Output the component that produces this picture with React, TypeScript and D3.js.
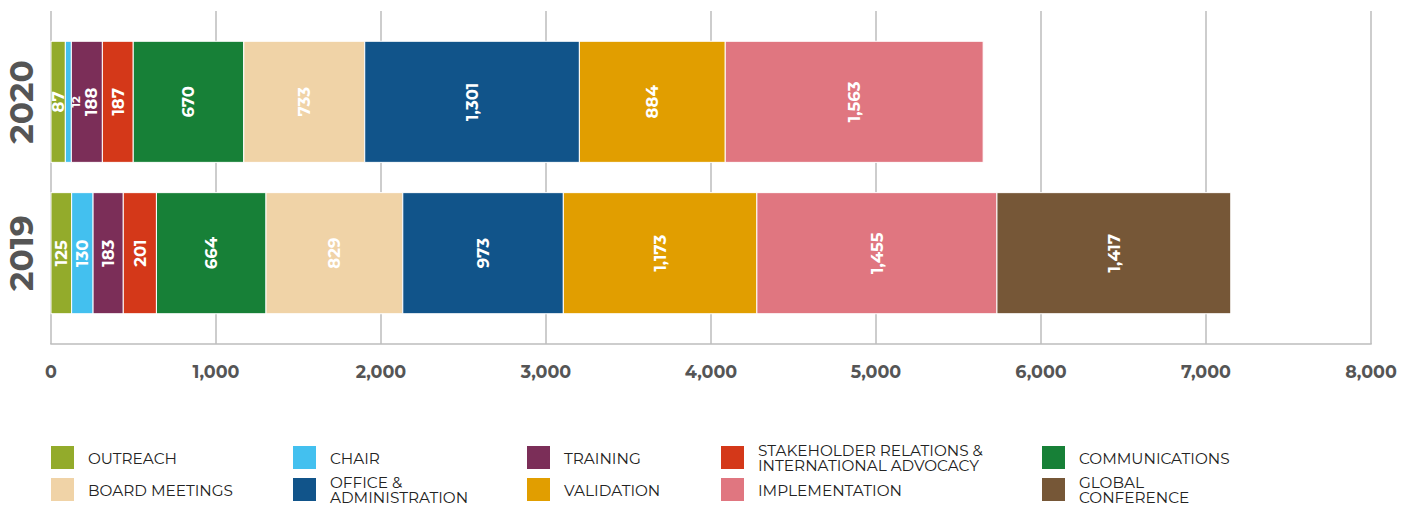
import React from "react";
import * as d3 from "d3";

const years = ["2020", "2019"];
const categories = [
  "OUTREACH",
  "CHAIR",
  "TRAINING",
  "STAKEHOLDER RELATIONS & INTERNATIONAL ADVOCACY",
  "COMMUNICATIONS",
  "BOARD MEETINGS",
  "OFFICE & ADMINISTRATION",
  "VALIDATION",
  "IMPLEMENTATION",
  "GLOBAL CONFERENCE",
];
const values2020 = [87, 12, 188, 187, 670, 733, 1301, 884, 1563, 0];
const values2019 = [125, 130, 183, 201, 664, 829, 973, 1173, 1455, 1417];
const colors = [
  "#93ab2b",
  "#43c0ef",
  "#7b2e58",
  "#d43819",
  "#178037",
  "#f0d3a7",
  "#11548a",
  "#e19e00",
  "#e07680",
  "#765737",
];
const xTicks = [0, 1000, 2000, 3000, 4000, 5000, 6000, 7000, 8000];

const legendLines: string[][] = [
  ["OUTREACH"],
  ["CHAIR"],
  ["TRAINING"],
  ["STAKEHOLDER RELATIONS &", "INTERNATIONAL ADVOCACY"],
  ["COMMUNICATIONS"],
  ["BOARD MEETINGS"],
  ["OFFICE &", "ADMINISTRATION"],
  ["VALIDATION"],
  ["IMPLEMENTATION"],
  ["GLOBAL", "CONFERENCE"],
];
const legendCols = [51, 293, 527, 721, 1042];
const legendRows = [457.5, 489.5];

export default function App() {
  const W = 1416;
  const H = 507;
  const x = d3.scaleLinear().domain([0, 8000]).range([51, 1371]);
  const y = d3.scaleBand().domain(years).range([11, 344]).paddingInner(0.2).paddingOuter(0.2);
  const fmt = d3.format(",");
  const font = "Montserrat, 'DejaVu Sans', sans-serif";
  const minW = 6;

  const dataByYear: Record<string, number[]> = { "2020": values2020, "2019": values2019 };

  type Seg = {
    yr: string;
    i: number;
    v: number;
    xa: number;
    xb: number;
    y0: number;
    bw: number;
    afterNarrow: boolean;
  };
  const segs: Seg[] = [];
  years.forEach((yr) => {
    const y0 = y(yr) as number;
    const bw = y.bandwidth();
    let px = x(0);
    let prevNarrow = false;
    dataByYear[yr].forEach((v, i) => {
      if (v <= 0) return;
      const w = Math.max(x(v) - x(0), minW);
      segs.push({ yr, i, v, xa: px, xb: px + w, y0, bw, afterNarrow: prevNarrow });
      prevNarrow = w < 10;
      px += w;
    });
  });

  return (
    <svg
      width={W}
      height={H}
      style={{ position: "absolute", left: 0, top: 0, background: "#fff" }}
    >
      {xTicks.map((t) => (
        <line key={"g" + t} x1={x(t)} x2={x(t)} y1={11} y2={344} stroke="#bdbdbd" strokeWidth={1.5} />
      ))}
      <line x1={50.3} x2={1371.7} y1={344} y2={344} stroke="#bdbdbd" strokeWidth={1.5} />
      {xTicks.map((t) => (
        <text
          key={"t" + t}
          x={x(t)}
          y={378}
          textAnchor="middle"
          fontFamily={font}
          fontWeight="bold"
          fontSize={17.5}
          fill="#555"
        >
          {fmt(t)}
        </text>
      ))}
      {years.map((yr) => {
        const y0 = y(yr) as number;
        const bw = y.bandwidth();
        return (
          <text
            key={"y" + yr}
            transform={`translate(${33},${y0 + bw / 2}) rotate(-90)`}
            textAnchor="middle"
            fontFamily={font}
            fontWeight="bold"
            fontSize={33}
            fill="#555"
          >
            {yr}
          </text>
        );
      })}
      {segs.map((s) => (
        <rect
          key={"r" + s.yr + s.i}
          x={s.xa}
          y={s.y0}
          width={s.xb - s.xa}
          height={s.bw}
          fill={colors[s.i]}
          stroke="#fff"
          strokeWidth={1}
        />
      ))}
      {segs.map((s) => {
        const w = s.xb - s.xa;
        const narrow = w < 10;
        const fs = narrow ? 11.5 : 16.5;
        const cx = narrow ? s.xb + 4.5 : (s.xa + s.xb) / 2 + (s.afterNarrow ? 4 : 0);
        const lx = cx + fs * 0.36;
        return (
          <text
            key={"l" + s.yr + s.i}
            transform={`translate(${lx},${s.y0 + s.bw / 2}) rotate(-90)`}
            textAnchor="middle"
            fontFamily={font}
            fontWeight="bold"
            fontSize={fs}
            fill="#fff"
          >
            {fmt(s.v)}
          </text>
        );
      })}
      {categories.map((c, i) => {
        const col = i % 5;
        const row = Math.floor(i / 5);
        const lx = legendCols[col];
        const cy = legendRows[row];
        const lines = legendLines[i];
        const tx = lx + 37;
        return (
          <g key={c}>
            <rect x={lx} y={cy - 11.5} width={23} height={23} fill={colors[i]} />
            {lines.map((ln, k) => (
              <text
                key={k}
                x={tx}
                y={cy + 6 + (k - (lines.length - 1) / 2) * 15}
                fontFamily={font}
                fontSize={15.3}
                fill="#222"
              >
                {ln}
              </text>
            ))}
          </g>
        );
      })}
    </svg>
  );
}
